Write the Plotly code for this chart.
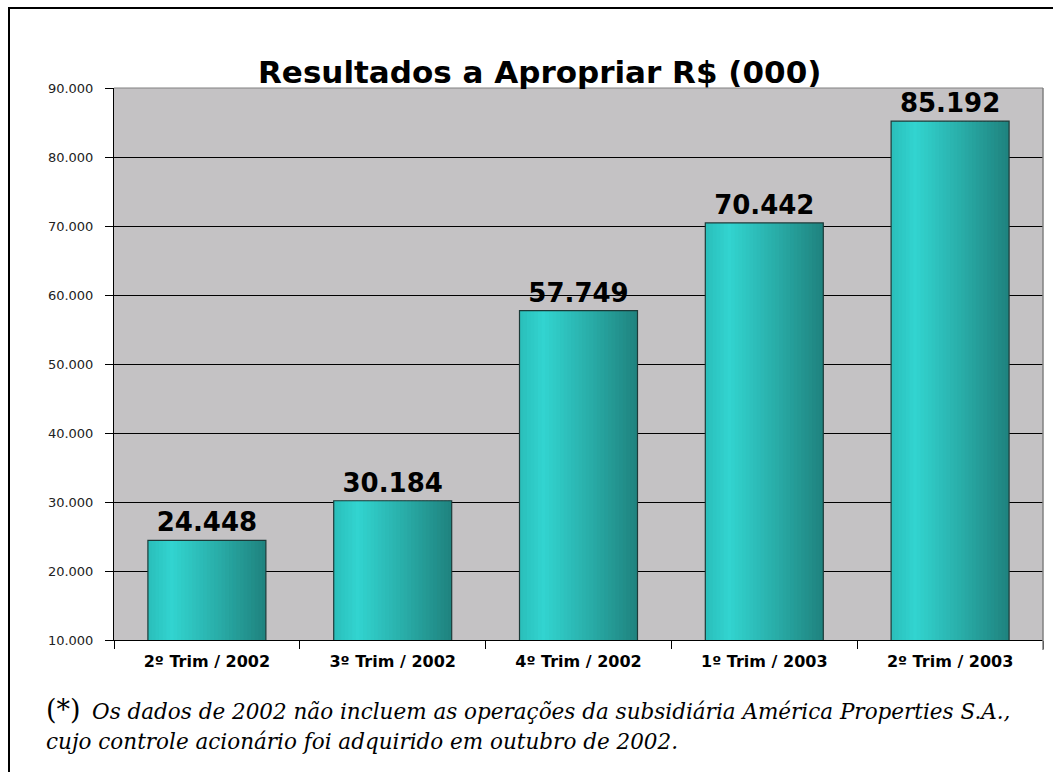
import plotly.graph_objects as go

categories = ["2º Trim / 2002", "3º Trim / 2002", "4º Trim / 2002", "1º Trim / 2003", "2º Trim / 2003"]
values = [24448, 30184, 57749, 70442, 85192]
y_ticks = [10000, 20000, 30000, 40000, 50000, 60000, 70000, 80000, 90000]

title_text = "Resultados a Apropriar R$ (000)"
note_mark = "(*)"
note_line1 = "Os dados de 2002 não incluem as operações da subsidiária América Properties S.A.,"
note_line2 = "cujo controle acionário foi adquirido em outubro de 2002."

W, H = 1053, 772
L, R, T, B = 114, 1043, 88, 640


def px_x(p):
    return (p - L) / (R - L)


def px_y(p):
    return 1 - (p - T) / (B - T)


def lerp(c1, c2, t):
    return tuple(round(a + (b - a) * t) for a, b in zip(c1, c2))


# horizontal gradient stops for the cylinder-like bars (style only)
stops = [(0.0, (42, 190, 186)), (0.2, (50, 212, 208)), (0.55, (42, 178, 173)), (1.0, (31, 130, 126))]


def grad(t):
    for (t0, c0), (t1, c1) in zip(stops, stops[1:]):
        if t <= t1:
            return lerp(c0, c1, (t - t0) / (t1 - t0))
    return stops[-1][1]


bar_w = 0.635
n = 32
sw = bar_w / n

fig = go.Figure()
for i in range(n):
    c = grad((i + 0.5) / n)
    fig.add_trace(go.Bar(
        x=categories, y=values,
        width=sw * 1.6 if i < n - 1 else sw,
        offset=-bar_w / 2 + i * sw,
        marker=dict(color="rgb(%d,%d,%d)" % c, line=dict(width=0)),
        hoverinfo="skip", showlegend=False,
    ))

fig.add_trace(go.Bar(
    x=categories, y=values, width=bar_w, offset=-bar_w / 2,
    marker=dict(color="rgba(0,0,0,0)", line=dict(color="#1c3a38", width=1.2)),
    texttemplate="%{y:,.0f}", textposition="outside", cliponaxis=False,
    textfont=dict(family="DejaVu Sans", size=26, color="#000000", weight="bold"),
    hoverinfo="skip", showlegend=False,
))

fig.update_layout(
    width=W, height=H,
    margin=dict(l=L, r=W - R, t=T, b=H - B),
    paper_bgcolor="white", plot_bgcolor="#c4c2c4",
    barmode="overlay", separators=",.",
    font=dict(family="DejaVu Sans", color="#000000"),
    xaxis=dict(
        type="category", tickson="boundaries", ticks="outside", ticklen=8,
        tickcolor="#000000", showline=True, linecolor="#000000", linewidth=1,
        showgrid=False, ticklabelstandoff=7,
        tickfont=dict(family="DejaVu Sans", size=16, weight="bold", color="#000000"),
        range=[-0.5, 4.5],
    ),
    yaxis=dict(
        range=[10000, 90000], tickvals=y_ticks, tickformat=",.0f",
        ticks="outside", ticklen=8, tickcolor="#000000",
        showline=True, linecolor="#000000", linewidth=1,
        showgrid=True, gridcolor="#000000", gridwidth=1,
        ticklabelstandoff=9,
        tickfont=dict(family="DejaVu Sans", size=13, color="#222222"),
        zeroline=False,
    ),
    shapes=[
        dict(type="line", xref="paper", yref="paper", x0=0, x1=1, y0=1, y1=1,
             line=dict(color="#808080", width=1)),
        dict(type="line", xref="paper", yref="paper", x0=1, x1=1, y0=px_y(650), y1=1,
             line=dict(color="#808080", width=1.5)),
        dict(type="rect", xref="paper", yref="paper", x0=px_x(9), x1=px_x(1080),
             y0=px_y(800), y1=px_y(8), line=dict(color="#000000", width=2),
             fillcolor="rgba(0,0,0,0)", layer="above"),
    ],
    annotations=[
        dict(text=title_text, xref="paper", yref="paper", x=px_x(539), y=px_y(72),
             xanchor="center", yanchor="middle", showarrow=False,
             font=dict(family="DejaVu Sans", size=31, weight="bold", color="#000000")),
        dict(text=note_mark, xref="paper", yref="paper", x=px_x(44), y=px_y(709),
             xanchor="left", yanchor="middle", showarrow=False,
             font=dict(family="DejaVu Serif", size=27, color="#000000")),
        dict(text="<i>" + note_line1 + "</i>", xref="paper", yref="paper", x=px_x(90), y=px_y(711),
             xanchor="left", yanchor="middle", showarrow=False,
             font=dict(family="DejaVu Serif", size=21.5, color="#000000")),
        dict(text="<i>" + note_line2 + "</i>", xref="paper", yref="paper", x=px_x(44), y=px_y(741),
             xanchor="left", yanchor="middle", showarrow=False,
             font=dict(family="DejaVu Serif", size=21.5, color="#000000")),
    ],
)

fig.write_html("out.html", post_script="document.body.style.margin='0';",
               config={"displayModeBar": False})
